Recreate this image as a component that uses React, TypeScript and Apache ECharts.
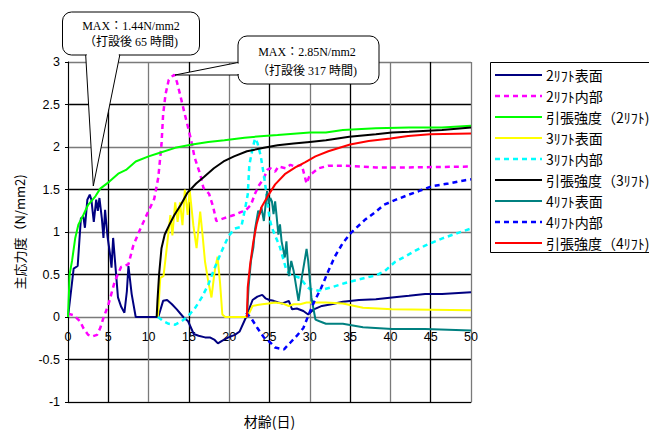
import React, { useEffect, useRef } from "react";
import * as echarts from "echarts";

// ---- data (day, N/mm2) ----
const lift2SurfaceDays = [0, 0.7, 1.2, 1.6, 1.9, 2.1, 2.4, 2.7, 2.9, 3.2, 3.5, 3.7, 3.9, 4.2, 4.4, 4.6, 4.9, 5.2, 5.4, 5.6, 5.9, 6.2, 6.6, 7.0, 7.3, 7.5, 7.9, 8.4, 11.2, 11.8, 12.3, 12.9, 13.5, 14.3, 14.9, 15.6, 16.2, 17.0, 17.6, 18.2, 18.6, 19.1, 19.9, 20.7, 21.3, 22.1, 22.9, 23.5, 24.1, 24.5, 25.0, 25.5, 26.1, 26.6, 27.4, 27.8, 28.4, 29.2, 29.8, 30.5, 31.5, 32.7, 34.1, 36.1, 38.2, 40.2, 42.3, 44.3, 46.4, 50];
const lift2SurfaceVals = [0, 0.57, 0.6, 1.16, 1.18, 1.05, 1.38, 1.44, 1.38, 1.12, 1.38, 1.25, 1.4, 1.16, 0.93, 1.26, 0.95, 0.75, 0.58, 0.93, 0.58, 0.23, 0.12, 0.05, 0.3, 0.6, 0.27, 0, 0, 0.19, 0.2, 0.15, 0.09, 0, -0.05, -0.2, -0.22, -0.24, -0.24, -0.27, -0.31, -0.28, -0.24, -0.21, -0.17, 0.0, 0.2, 0.24, 0.26, 0.22, 0.2, 0.19, 0.17, 0.16, 0.19, 0.09, 0.1, 0.07, 0.03, 0.09, 0.13, 0.15, 0.18, 0.2, 0.21, 0.23, 0.25, 0.27, 0.27, 0.29];

const lift2InnerDays = [0, 0.7, 1.5, 1.9, 2.5, 3.0, 3.6, 4.0, 4.4, 5.0, 5.8, 6.6, 7.5, 8.1, 8.9, 9.9, 10.7, 11.2, 11.6, 11.8, 12.1, 12.5, 12.9, 13.2, 13.5, 13.9, 14.4, 14.9, 15.3, 15.7, 16.4, 16.8, 17.5, 18.0, 18.4, 19.3, 20.6, 21.6, 22.0, 22.7, 23.2, 23.7, 24.3, 24.7, 25.1, 25.7, 26.1, 27.0, 27.6, 28.2, 29.0, 29.6, 30.0, 31.1, 32.3, 34.1, 38.2, 42.3, 50];
const lift2InnerVals = [0.04, 0.02, -0.05, -0.13, -0.21, -0.23, -0.21, -0.13, -0.01, 0.14, 0.42, 0.59, 0.62, 0.84, 1.02, 1.23, 1.39, 1.64, 2.03, 2.38, 2.62, 2.79, 2.83, 2.85, 2.77, 2.62, 2.42, 2.23, 2.07, 1.88, 1.68, 1.52, 1.45, 1.3, 1.13, 1.16, 1.2, 1.24, 1.25, 1.32, 1.45, 1.55, 1.63, 1.73, 1.75, 1.71, 1.77, 1.75, 1.79, 1.77, 1.79, 1.57, 1.67, 1.75, 1.78, 1.78, 1.76, 1.76, 1.77];

const lift2StrengthDays = [0, 0.2, 0.5, 0.9, 1.3, 1.9, 2.5, 3.4, 4.0, 5.1, 6.3, 7.2, 8.4, 10, 11.3, 13.3, 15.4, 17.4, 19.4, 21.9, 24.3, 26, 30, 32, 34.1, 38.2, 42.3, 46.4, 50];
const lift2StrengthVals = [0, 0.5, 0.66, 0.93, 1.09, 1.2, 1.32, 1.42, 1.51, 1.59, 1.69, 1.73, 1.83, 1.89, 1.93, 1.99, 2.03, 2.06, 2.08, 2.11, 2.13, 2.14, 2.17, 2.17, 2.2, 2.22, 2.23, 2.23, 2.25];

const lift3SurfaceDays = [11.15, 11.45, 11.85, 12.25, 12.7, 12.95, 13.3, 13.6, 13.9, 14.2, 14.5, 14.85, 15.1, 15.55, 15.95, 16.4, 16.7, 17.0, 17.4, 17.8, 18.2, 18.55, 18.85, 19.15, 19.5, 22.05, 22.5, 22.9, 23.5, 24.1, 24.9, 25.7, 26.6, 27.4, 28.0, 28.8, 29.6, 30.5, 32, 34.1, 36.6, 40.2, 50];
const lift3SurfaceVals = [0, 0.46, 0.48, 0.81, 1.2, 0.96, 1.35, 1.12, 1.35, 1.08, 1.5, 1.2, 1.49, 1.08, 0.81, 1.24, 0.96, 0.65, 0.42, 0.23, 0.54, 0.71, 0.42, 0.03, 0, 0, 0.05, 0.13, 0.14, 0.15, 0.16, 0.17, 0.16, 0.13, 0.15, 0.15, 0.17, 0.17, 0.17, 0.16, 0.11, 0.09, 0.08];

const lift3InnerDays = [11.15, 11.85, 12.5, 13.3, 14.1, 14.9, 15.8, 16.6, 17.4, 18.2, 19.05, 19.9, 20.7, 21.5, 21.9, 22.3, 22.5, 22.9, 23.2, 23.5, 23.9, 24.3, 24.7, 25.0, 25.3, 26.3, 27.1, 27.6, 28.2, 28.8, 29.6, 30, 31.1, 32.7, 34.4, 36, 38.2, 39.3, 40.6, 41.8, 43.1, 44.3, 46.6, 48.4, 50];
const lift3InnerVals = [0, -0.05, -0.08, -0.09, -0.05, 0.01, 0.11, 0.23, 0.38, 0.58, 0.77, 0.95, 1.04, 1.06, 1.24, 1.44, 1.79, 1.98, 2.1, 2.05, 1.9, 1.67, 1.4, 1.16, 1.05, 0.82, 0.55, 0.5, 0.48, 0.46, 0.36, 0.33, 0.31, 0.35, 0.4, 0.44, 0.49, 0.54, 0.65, 0.71, 0.78, 0.84, 0.93, 0.99, 1.04];

const lift3StrengthDays = [11.0, 11.1, 11.3, 11.6, 12.0, 12.6, 13.2, 14.0, 14.8, 15.9, 16.9, 18.1, 19.3, 20.6, 22.2, 24.3, 26, 28, 30, 32, 34.9, 38.2, 40.2, 42.3, 46.4, 50];
const lift3StrengthVals = [0, 0.19, 0.5, 0.81, 0.97, 1.09, 1.2, 1.32, 1.46, 1.57, 1.65, 1.75, 1.83, 1.89, 1.95, 1.99, 2.02, 2.04, 2.06, 2.08, 2.12, 2.15, 2.17, 2.18, 2.2, 2.23];

const lift4SurfaceDays = [22.2, 22.4, 22.7, 23.0, 23.2, 23.6, 23.8, 24.0, 24.3, 24.7, 24.9, 25.1, 25.3, 25.5, 25.7, 25.9, 26.1, 26.3, 26.5, 26.9, 27.1, 27.4, 27.7, 28.0, 28.6, 29.0, 29.6, 29.8, 30.2, 30.7, 31.2, 32, 34.1, 36.6, 40.2, 44.3, 50];
const lift4SurfaceVals = [0, 0.35, 0.66, 0.82, 1.03, 1.25, 1.21, 1.29, 1.13, 1.48, 1.33, 1.4, 1.36, 1.21, 1.36, 1.17, 0.97, 1.09, 0.89, 0.7, 0.89, 0.48, 0.66, 0.54, 0.19, 0.46, 0.8, 0.66, 0.23, -0.03, -0.05, -0.08, -0.08, -0.12, -0.14, -0.14, -0.16];

const lift4InnerDays = [22.1, 22.7, 23.5, 24.3, 25.1, 25.7, 26.8, 27.6, 28.4, 29.2, 30, 30.6, 31.4, 32.3, 33.1, 34.1, 35.1, 36.8, 38.2, 39.2, 40.7, 42.3, 43.5, 45.2, 47.2, 49.3, 50];
const lift4InnerVals = [0.05, -0.01, -0.13, -0.24, -0.3, -0.36, -0.38, -0.3, -0.22, -0.13, 0.06, 0.19, 0.34, 0.54, 0.71, 0.87, 0.99, 1.14, 1.24, 1.32, 1.38, 1.44, 1.48, 1.54, 1.57, 1.61, 1.62];

const lift4StrengthDays = [22.2, 22.3, 22.6, 23, 23.4, 24, 24.9, 25.7, 26.9, 28.2, 29.4, 30.7, 32.3, 35, 37.3, 40, 42.2, 44.9, 50];
const lift4StrengthVals = [0, 0.35, 0.62, 0.89, 1.09, 1.29, 1.44, 1.56, 1.68, 1.76, 1.82, 1.89, 1.95, 2.03, 2.07, 2.1, 2.13, 2.15, 2.16];

const seriesNames = [
  "2ﾘﾌﾄ表面",
  "2ﾘﾌﾄ内部",
  "引張強度（2ﾘﾌﾄ)",
  "3ﾘﾌﾄ表面",
  "3ﾘﾌﾄ内部",
  "引張強度（3ﾘﾌﾄ)",
  "4ﾘﾌﾄ表面",
  "4ﾘﾌﾄ内部",
  "引張強度（4ﾘﾌﾄ)",
];

const callout1Lines = ["MAX：1.44N/mm2", "（打設後 65 時間)"];
const callout2Lines = ["MAX：2.85N/mm2", "（打設後 317 時間)"];

const pairs = (d: number[], v: number[]) => d.map((x, i) => [x, v[i]]);

const CJK = '"Noto Sans CJK JP", "Liberation Sans", sans-serif';
const SERIF = '"Liberation Serif", "Noto Sans CJK JP", serif';
const SANS = '"Liberation Sans", Arial, sans-serif';

export default function App() {
  const ref = useRef<HTMLDivElement>(null);

  useEffect(() => {
    if (!ref.current) return;
    const chart = echarts.init(ref.current, null, { renderer: "svg" });

    const defs = [
      { d: lift2SurfaceDays, v: lift2SurfaceVals, color: "#000080", width: 2, type: "solid" },
      { d: lift2InnerDays, v: lift2InnerVals, color: "#FF00FF", width: 2.5, type: [5, 4] },
      { d: lift2StrengthDays, v: lift2StrengthVals, color: "#00FF00", width: 2, type: "solid" },
      { d: lift3SurfaceDays, v: lift3SurfaceVals, color: "#FFFF00", width: 2, type: "solid" },
      { d: lift3InnerDays, v: lift3InnerVals, color: "#00FFFF", width: 2.5, type: [5, 4] },
      { d: lift3StrengthDays, v: lift3StrengthVals, color: "#000000", width: 2, type: "solid" },
      { d: lift4SurfaceDays, v: lift4SurfaceVals, color: "#008080", width: 2, type: "solid" },
      { d: lift4InnerDays, v: lift4InnerVals, color: "#0000FF", width: 2.5, type: [5, 4] },
      { d: lift4StrengthDays, v: lift4StrengthVals, color: "#FF0000", width: 2, type: "solid" },
    ];

    const series = defs.map((s, i) => ({
      name: seriesNames[i],
      type: "line",
      data: pairs(s.d, s.v),
      symbol: "none",
      showSymbol: false,
      lineStyle: { color: s.color, width: s.width, type: s.type },
      itemStyle: { color: s.color },
      z: 3,
    }));

    // legend drawn as graphics
    const legendX = 490.5;
    const legendTop = 62.5;
    const legendRow = 21;
    const legendGraphics: any[] = [
      {
        type: "rect",
        shape: { x: legendX, y: legendTop, width: 170, height: 190 },
        style: { fill: "#fff", stroke: "#000", lineWidth: 1 },
        z: 90,
      },
    ];
    defs.forEach((s, i) => {
      const y = 75 + legendRow * i;
      legendGraphics.push({
        type: "line",
        shape: { x1: 495, y1: y, x2: 542, y2: y },
        style: {
          stroke: s.color,
          lineWidth: s.width,
          lineDash: Array.isArray(s.type) ? s.type : null,
        },
        z: 91,
      });
      legendGraphics.push({
        type: "text",
        x: 546,
        y,
        z: 91,
        style: {
          text: seriesNames[i],
          fill: "#000",
          fontSize: 14,
          fontFamily: CJK,
          align: "left",
          verticalAlign: "middle",
        },
      });
    });

    const cal = (
      bx: number, by: number, bw: number, bh: number,
      tri: number[][], eraseLine: number[],
      lines: string[], tx: number, ty: number[]
    ) => [
      {
        type: "rect",
        shape: { x: bx, y: by, width: bw, height: bh, r: 9 },
        style: { fill: "#fff", stroke: "#000", lineWidth: 1 },
        z: 100,
      },
      {
        type: "polygon",
        shape: { points: tri },
        style: { fill: "#fff", stroke: "#000", lineWidth: 1 },
        z: 101,
      },
      {
        type: "line",
        shape: { x1: eraseLine[0], y1: eraseLine[1], x2: eraseLine[2], y2: eraseLine[3] },
        style: { stroke: "#fff", lineWidth: 2.5 },
        z: 102,
      },
      ...lines.map((t, i) => ({
        type: "text",
        x: tx,
        y: ty[i],
        z: 103,
        style: {
          text: t,
          fill: "#000",
          fontSize: 12,
          fontFamily: SERIF,
          align: "center",
          verticalAlign: "middle",
        },
      })),
    ];

    chart.setOption({
      animation: false,
      backgroundColor: "#fff",
      grid: { left: 68, top: 62, width: 403, height: 340, containLabel: false, outerBoundsMode: "none" },
      xAxis: {
        type: "value",
        min: 0,
        max: 50,
        interval: 5,
        position: "bottom",
        axisLine: { show: true, onZero: false, lineStyle: { color: "#000", width: 1 } },
        axisTick: { show: false },
        // labels sit just under the zero line, as in the reference
        axisLabel: { color: "#000", fontSize: 12.5, fontFamily: SANS, margin: -72 },
        splitLine: { show: true, lineStyle: { color: ["#7a7a7a", "#000"], width: 1.3 } },
        name: "材齢(日)",
        nameLocation: "middle",
        nameGap: 12,
        nameTextStyle: { color: "#000", fontSize: 14, fontFamily: CJK, verticalAlign: "top" },
      },
      yAxis: {
        type: "value",
        min: -1,
        max: 3,
        interval: 0.5,
        axisLine: { show: true, lineStyle: { color: "#000", width: 1 } },
        axisTick: { show: true, length: 3, inside: false, lineStyle: { color: "#000" } },
        axisLabel: { color: "#000", fontSize: 12.5, fontFamily: SANS, margin: 8 },
        splitLine: { show: true, lineStyle: { color: ["#7a7a7a", "#000"], width: 1.3 } },
        name: "主応力度（N/mm2)",
        nameLocation: "middle",
        nameGap: 42,
        nameTextStyle: { color: "#000", fontSize: 13, fontFamily: CJK },
      },
      legend: { show: false },
      series,
      graphic: [
        ...legendGraphics,
        ...cal(
          62.5, 12, 137, 43,
          [[85.7, 55], [93.3, 186], [119.8, 55]],
          [86.7, 55, 118.8, 55],
          callout1Lines, 131, [26, 42]
        ),
        ...cal(
          238, 36, 141, 48,
          [[238, 62.5], [175, 75], [238, 75]],
          [238, 63.5, 238, 74],
          callout2Lines, 307, [52, 71]
        ),
      ],
    });

    return () => chart.dispose();
  }, []);

  return (
    <div
      ref={ref}
      style={{ position: "fixed", left: 0, top: 0, width: 649, height: 430, background: "#fff" }}
    />
  );
}
